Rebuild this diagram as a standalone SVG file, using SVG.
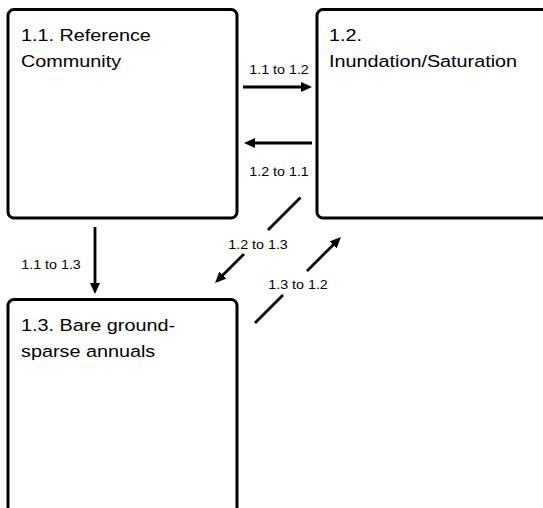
<svg xmlns="http://www.w3.org/2000/svg" width="543" height="508" viewBox="0 0 543 508">
  <style>
    .box { fill: #ffffff; stroke: #000000; stroke-width: 3; }
    .title { font-family: "Liberation Sans", Arial, sans-serif; font-size: 17px; fill: #000000; }
    .lbl { font-family: "Liberation Sans", Arial, sans-serif; font-size: 13px; fill: #000000; text-anchor: middle; }
    .conn { fill: none; stroke: #000000; stroke-width: 2.8; }
  </style>
  <defs>
    <marker id="ah" markerUnits="userSpaceOnUse" markerWidth="11" markerHeight="10" refX="3" refY="5" orient="auto">
      <path d="M0,0 L11,5 L0,10 Z" fill="#000000"/>
    </marker>
  </defs>
  <rect width="543" height="508" fill="#ffffff"/>

  <g id="node-1-1">
    <rect class="box" x="8" y="9.5" width="229" height="208.5" rx="6"/>
    <text class="title" transform="translate(21 40.5) scale(1.165 1)">1.1. Reference</text>
    <text class="title" transform="translate(21 67) scale(1.165 1)">Community</text>
  </g>

  <g id="node-1-2">
    <rect class="box" x="317" y="9.5" width="240" height="208.5" rx="6"/>
    <text class="title" transform="translate(329 40.5) scale(1.165 1)">1.2.</text>
    <text class="title" transform="translate(329 67) scale(1.165 1)">Inundation/Saturation</text>
  </g>

  <g id="node-1-3">
    <rect class="box" x="8" y="299.5" width="229" height="230" rx="6"/>
    <text class="title" transform="translate(21 330.5) scale(1.165 1)">1.3. Bare ground-</text>
    <text class="title" transform="translate(21 357) scale(1.165 1)">sparse annuals</text>
  </g>

  <g id="connectors">
    <line class="conn" x1="243" y1="87" x2="304" y2="87" marker-end="url(#ah)"/>
    <line class="conn" x1="312" y1="143" x2="252" y2="143" marker-end="url(#ah)"/>
    <line class="conn" x1="95" y1="227" x2="95" y2="286" marker-end="url(#ah)"/>
    <path class="conn" d="M300.5,197.5 L268,230 M244,254 L220.7,277.3" marker-end="url(#ah)"/>
    <path class="conn" d="M255,323 L283,295 M307,271 L335.3,242.7" marker-end="url(#ah)"/>
    <text class="lbl" transform="translate(279 73.5) scale(1.1 1)">1.1 to 1.2</text>
    <text class="lbl" transform="translate(279 175.5) scale(1.1 1)">1.2 to 1.1</text>
    <text class="lbl" transform="translate(51 268.5) scale(1.1 1)">1.1 to 1.3</text>
    <text class="lbl" transform="translate(258 249) scale(1.1 1)">1.2 to 1.3</text>
    <text class="lbl" transform="translate(298 289) scale(1.1 1)">1.3 to 1.2</text>
  </g>
</svg>
